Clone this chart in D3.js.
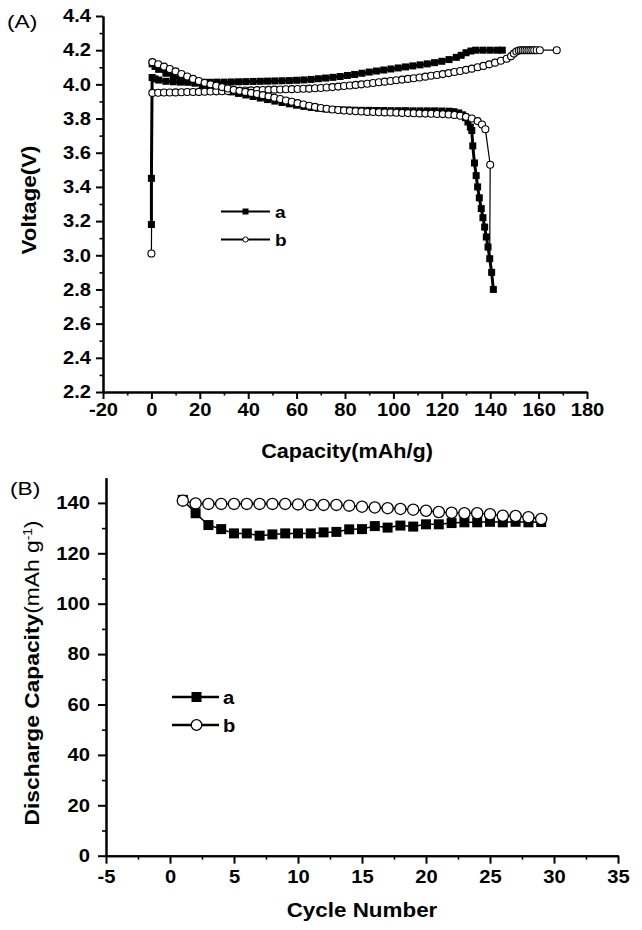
<!DOCTYPE html>
<html>
<head>
<meta charset="utf-8">
<script src="https://cdn.jsdelivr.net/npm/d3@7"></script>
<style>
  body { margin: 0; background: #fff; }
  svg { font-family: "Liberation Sans", Arial, sans-serif; }
</style>
</head>
<body>
<svg id="chart" width="642" height="930"></svg>
<script>
// ---- panel (A): first charge / discharge, [capacity mAh/g, voltage V]
const aCharge = [[0,3.18],[0,3.45],[0.3,4.04],[1.5,4.032],[3,4.025],[6,4.018],[9,4.015],[12,4.013],[15,4.012],[18,4.012],
  [21,4.012],[24,4.012],[27,4.013],[30,4.013],[33,4.014],[36,4.015],[39,4.016],[42,4.017],[45,4.018],[48,4.019],
  [51,4.020],[54,4.021],[57,4.022],[60,4.024],[63,4.026],[66,4.029],[69,4.033],[72,4.037],[75,4.041],[78,4.046],
  [81,4.052],[84,4.058],[87,4.065],[90,4.072],[93,4.078],[96,4.084],[99,4.090],[102,4.096],[105,4.102],[108,4.108],
  [111,4.114],[114,4.120],[117,4.127],[120,4.135],[123,4.145],[126,4.158],[128,4.170],[130,4.185],[132,4.195],[134,4.200],
  [137,4.200],[140,4.200],[143,4.200],[145,4.200]];
const aDischarge = [[0.3,4.120],[1.5,4.105],[3,4.088],[6,4.065],[9,4.048],[12,4.034],[15,4.020],[18,4.007],[21,3.995],[24,3.984],
  [27,3.974],[30,3.965],[33,3.956],[36,3.947],[39,3.938],[42,3.929],[45,3.920],[48,3.911],[51,3.902],[54,3.894],
  [57,3.886],[60,3.878],[63,3.871],[66,3.865],[69,3.860],[72,3.856],[75,3.853],[78,3.851],[81,3.850],[84,3.849],
  [87,3.848],[90,3.848],[93,3.847],[96,3.847],[99,3.846],[102,3.846],[105,3.846],[108,3.845],[111,3.845],[114,3.845],
  [117,3.845],[120,3.844],[123,3.843],[125,3.840],[127,3.833],[128.5,3.822],[129.8,3.805],[130.8,3.780],[131.8,3.750],[132.4,3.730],
  [132.8,3.640],[133.5,3.540],[134.2,3.466],[134.8,3.400],[135.5,3.336],[136.3,3.273],[137.0,3.220],[137.7,3.165],[138.4,3.107],[139.1,3.048],
  [139.8,2.980],[140.6,2.900],[141.3,2.800]];
const bCharge = [[0,3.01],[0.4,3.950],[2.8,3.951],[5.2,3.952],[7.6,3.952],[10,3.953],[12.4,3.954],[14.8,3.955],[17.2,3.955],[19.6,3.956],
  [22,3.957],[24.4,3.958],[26.8,3.959],[29.2,3.960],[31.6,3.961],[34,3.962],[36.4,3.963],[38.8,3.964],[41.2,3.965],[43.6,3.966],
  [46,3.967],[48.4,3.968],[50.8,3.969],[53.2,3.970],[55.6,3.971],[58,3.972],[60.4,3.973],[62.8,3.974],[65.2,3.975],[67.6,3.977],
  [70,3.979],[72.4,3.982],[74.8,3.984],[77.2,3.987],[79.6,3.990],[82,3.993],[84.4,3.997],[86.8,4.000],[89.2,4.004],[91.6,4.008],
  [94,4.012],[96.4,4.016],[98.8,4.020],[101.2,4.024],[103.6,4.028],[106,4.032],[108.4,4.036],[110.8,4.040],[113.2,4.045],[115.6,4.050],
  [118,4.055],[120.4,4.060],[122.8,4.066],[125.2,4.072],[127.6,4.078],[130,4.085],[132.4,4.092],[134.8,4.100],[137.2,4.108],[139.6,4.117],
  [142,4.127],[144.4,4.138],[146.8,4.150],[148.6,4.165],[149.8,4.180],[150.8,4.192],[151.8,4.198],[152.6,4.200],[153.4,4.200],[154.2,4.200],
  [155,4.200],[155.8,4.200],[156.6,4.200],[157.4,4.200],[158.2,4.200],[159.2,4.200],[160.5,4.200],[167.5,4.200]];
const bDischarge = [[0.4,4.130],[2.8,4.118],[5.2,4.104],[7.6,4.090],[10,4.076],[12.4,4.061],[14.8,4.046],[17.2,4.032],[19.6,4.020],[22,4.009],
  [24.4,4.000],[26.8,3.992],[29.2,3.984],[31.6,3.976],[34,3.968],[36.4,3.962],[38.8,3.956],[41.2,3.950],[43.6,3.944],[46,3.937],
  [48.4,3.930],[50.8,3.922],[53.2,3.914],[55.6,3.906],[58,3.898],[60.4,3.890],[62.8,3.882],[65.2,3.875],[67.6,3.868],[70,3.862],
  [72.4,3.857],[74.8,3.853],[77.2,3.850],[79.6,3.847],[82,3.845],[84.4,3.843],[86.8,3.841],[89.2,3.839],[91.6,3.838],[94,3.837],
  [96.4,3.836],[98.8,3.835],[101.2,3.834],[103.6,3.833],[106,3.832],[108.4,3.831],[110.8,3.830],[113.2,3.829],[115.6,3.828],[118,3.827],
  [120.4,3.826],[122.8,3.824],[125.2,3.821],[127.6,3.816],[130,3.810],[132.4,3.800],[134.8,3.785],[136.6,3.765],[138,3.737],[140,3.530],
  [139.8,2.980]];
const xTicksA = [-20,0,20,40,60,80,100,120,140,160,180];
const xMinorA = [-10,10,30,50,70,90,110,130,150,170];
const yTicksA = [2.2,2.4,2.6,2.8,3.0,3.2,3.4,3.6,3.8,4.0,4.2,4.4];
const yMinorA = [2.3,2.5,2.7,2.9,3.1,3.3,3.5,3.7,3.9,4.1,4.3];

// ---- panel (B): discharge capacity vs cycle
const cycles = [1,2,3,4,5,6,7,8,9,10,11,12,13,14,15,16,17,18,19,20,21,22,23,24,25,26,27,28,29];
const capA = [141.2,135.9,131.2,129.6,127.9,127.9,127.0,127.5,127.9,127.9,127.9,128.3,128.5,129.5,129.6,
  130.8,130.2,131.0,130.6,131.5,131.5,132.0,132.3,132.3,132.5,132.3,132.5,132.3,132.4];
const capB = [140.9,139.8,139.6,139.6,139.6,139.6,139.6,139.6,139.6,139.4,139.2,139.2,139.2,138.9,138.5,
  138.2,137.9,137.6,137.3,136.9,136.4,136.1,135.9,135.9,135.5,134.9,134.8,134.3,133.6];
const xTicksB = [-5,0,5,10,15,20,25,30,35];
const xMinorB = [-2.5,2.5,7.5,12.5,17.5,22.5,27.5,32.5];
const yTicksB = [0,20,40,60,80,100,120,140];
const yMinorB = [10,30,50,70,90,110,130];

const svg = d3.select('#chart');

// the figure's lettering is a bit wider than plain Arial: stretch along the baseline
let widen = (sel, k) => sel.each(function() {
  let len = this.getComputedTextLength();
  if (len > 0) d3.select(this).attr('textLength', len * k).attr('lengthAdjust', 'spacingAndGlyphs');
});

let styleAxis = (g, major) => {
  g.attr('font-family', 'Liberation Sans, Arial, sans-serif');
  g.select('.domain').attr('stroke', '#000').attr('stroke-width', 2);
  g.selectAll('.tick line').attr('stroke', '#000').attr('stroke-width', major ? 2 : 1.6);
  g.selectAll('.tick text').attr('fill', '#000')
    .style('font-size', '18px').style('font-weight', 'bold')
    .call(widen, 1.12);
};

let label = (x, y, txt, size, bold, anchor, k, rotate) => {
  let t = svg.append('text').attr('text-anchor', anchor)
    .attr('transform', `translate(${x},${y})` + (rotate ? ' rotate(-90)' : ''))
    .style('font-size', size + 'px').style('font-weight', bold ? 'bold' : 'normal')
    .text(txt);
  widen(t, k);
  return t;
};

// ================= panel A =================
let xA = d3.scaleLinear().domain([-20, 180]).range([103, 587]);
let yA = d3.scaleLinear().domain([2.2, 4.4]).range([392, 16]);

svg.append('g').attr('transform', 'translate(0,392)')
  .call(d3.axisBottom(xA).tickValues(xMinorA).tickSize(3.5).tickSizeOuter(0).tickFormat(''))
  .call(g => styleAxis(g, false));
svg.append('g').attr('transform', 'translate(0,392)')
  .call(d3.axisBottom(xA).tickValues(xTicksA).tickSize(7).tickSizeOuter(0).tickPadding(4).tickFormat(d => String(d)))
  .call(g => styleAxis(g, true));
svg.append('g').attr('transform', 'translate(103,0)')
  .call(d3.axisLeft(yA).tickValues(yMinorA).tickSize(3.5).tickSizeOuter(0).tickFormat(''))
  .call(g => styleAxis(g, false));
svg.append('g').attr('transform', 'translate(103,0)')
  .call(d3.axisLeft(yA).tickValues(yTicksA).tickSize(7).tickSizeOuter(0).tickPadding(5).tickFormat(d3.format('.1f')))
  .call(g => styleAxis(g, true));

label(7, 28, '(A)', 19, false, 'start', 1.2);
label(347, 458, 'Capacity(mAh/g)', 20, true, 'middle', 1.08);
label(36, 200, 'Voltage(V)', 20, true, 'middle', 1.12, true);

let lineA = d3.line().x(d => xA(d[0])).y(d => yA(d[1]));

let drawSquares = (data, size) => {
  svg.append('g').selectAll('rect').data(data).enter().append('rect')
    .attr('x', d => xA(d[0]) - size / 2)
    .attr('y', d => yA(d[1]) - size / 2)
    .attr('width', size).attr('height', size).attr('fill', '#000');
};
let drawCircles = (data, r) => {
  svg.append('g').selectAll('circle').data(data).enter().append('circle')
    .attr('cx', d => xA(d[0])).attr('cy', d => yA(d[1])).attr('r', r)
    .attr('fill', '#fff').attr('stroke', '#000').attr('stroke-width', 1.1);
};

[aCharge, aDischarge].forEach(s => {
  svg.append('path').datum(s).attr('fill', 'none').attr('stroke', '#000')
    .attr('stroke-width', 3).attr('d', lineA);
  drawSquares(s, 7);
});
[bCharge, bDischarge].forEach(s => {
  svg.append('path').datum(s).attr('fill', 'none').attr('stroke', '#000')
    .attr('stroke-width', 1.2).attr('d', lineA);
});
drawCircles(bCharge, 3.5);
// last discharge point of b sits under the squares of a
drawCircles(bDischarge.slice(0, -1), 3.5);

// legend A
let legA = svg.append('g');
legA.append('line').attr('x1', 221).attr('x2', 270).attr('y1', 211.5).attr('y2', 211.5)
  .attr('stroke', '#000').attr('stroke-width', 1.8);
legA.append('rect').attr('x', 242.5).attr('y', 208.5).attr('width', 6).attr('height', 6).attr('fill', '#000');
legA.append('line').attr('x1', 221).attr('x2', 270).attr('y1', 239.5).attr('y2', 239.5)
  .attr('stroke', '#000').attr('stroke-width', 1.8);
legA.append('circle').attr('cx', 245.5).attr('cy', 239.5).attr('r', 2.6)
  .attr('fill', '#fff').attr('stroke', '#000').attr('stroke-width', 1);
label(275, 217.5, 'a', 17, true, 'start', 1.12);
label(275, 245.5, 'b', 17, true, 'start', 1.12);

// ================= panel B =================
let xB = d3.scaleLinear().domain([-5, 35]).range([106, 618]);
let yB = d3.scaleLinear().domain([0, 150]).range([855.7, 477.7]);

svg.append('g').attr('transform', 'translate(0,855.7)')
  .call(d3.axisBottom(xB).tickValues(xMinorB).tickSize(4).tickSizeOuter(0).tickFormat(''))
  .call(g => styleAxis(g, false));
svg.append('g').attr('transform', 'translate(0,855.7)')
  .call(d3.axisBottom(xB).tickValues(xTicksB).tickSize(8).tickSizeOuter(0).tickPadding(7).tickFormat(d => String(d)))
  .call(g => styleAxis(g, true));
svg.append('g').attr('transform', 'translate(106,0)')
  .call(d3.axisLeft(yB).tickValues(yMinorB).tickSize(4).tickSizeOuter(0).tickFormat(''))
  .call(g => styleAxis(g, false));
svg.append('g').attr('transform', 'translate(106,0)')
  .call(d3.axisLeft(yB).tickValues(yTicksB).tickSize(8).tickSizeOuter(0).tickPadding(8).tickFormat(d => String(d)))
  .call(g => styleAxis(g, true));

label(10, 495, '(B)', 19, false, 'start', 1.2);
label(362, 917, 'Cycle Number', 20, true, 'middle', 1.12);
let yTitleB = svg.append('text').attr('transform', 'translate(39,673) rotate(-90)')
  .attr('text-anchor', 'middle').style('font-size', '20px');
yTitleB.append('tspan').style('font-weight', 'bold').text('Discharge Capacity');
yTitleB.append('tspan').text('(mAh g');
yTitleB.append('tspan').style('font-size', '12px').attr('dy', -7).text('-1');
yTitleB.append('tspan').attr('dy', 7).text(')');
yTitleB.selectAll('tspan').call(widen, 1.14);

let ptsA = cycles.map((c, i) => [c, capA[i]]);
let ptsB = cycles.map((c, i) => [c, capB[i]]);
let lineB = d3.line().x(d => xB(d[0])).y(d => yB(d[1]));

svg.append('path').datum(ptsA).attr('fill', 'none').attr('stroke', '#000').attr('stroke-width', 1.5).attr('d', lineB);
svg.append('g').selectAll('rect').data(ptsA).enter().append('rect')
  .attr('x', d => xB(d[0]) - 5).attr('y', d => yB(d[1]) - 5)
  .attr('width', 10).attr('height', 10).attr('fill', '#000');
svg.append('path').datum(ptsB).attr('fill', 'none').attr('stroke', '#000').attr('stroke-width', 1.5).attr('d', lineB);
svg.append('g').selectAll('circle').data(ptsB).enter().append('circle')
  .attr('cx', d => xB(d[0])).attr('cy', d => yB(d[1])).attr('r', 5.6)
  .attr('fill', '#fff').attr('stroke', '#000').attr('stroke-width', 1.3);

// legend B
let legB = svg.append('g');
legB.append('line').attr('x1', 172).attr('x2', 219).attr('y1', 697).attr('y2', 697)
  .attr('stroke', '#000').attr('stroke-width', 2.4);
legB.append('rect').attr('x', 191.5).attr('y', 692).attr('width', 10).attr('height', 10).attr('fill', '#000');
legB.append('line').attr('x1', 172).attr('x2', 219).attr('y1', 725).attr('y2', 725)
  .attr('stroke', '#000').attr('stroke-width', 2.4);
legB.append('circle').attr('cx', 196.5).attr('cy', 725).attr('r', 5.3)
  .attr('fill', '#fff').attr('stroke', '#000').attr('stroke-width', 1.3);
label(223, 703.5, 'a', 18, true, 'start', 1.12);
label(223, 731.5, 'b', 18, true, 'start', 1.12);
</script>
</body>
</html>
